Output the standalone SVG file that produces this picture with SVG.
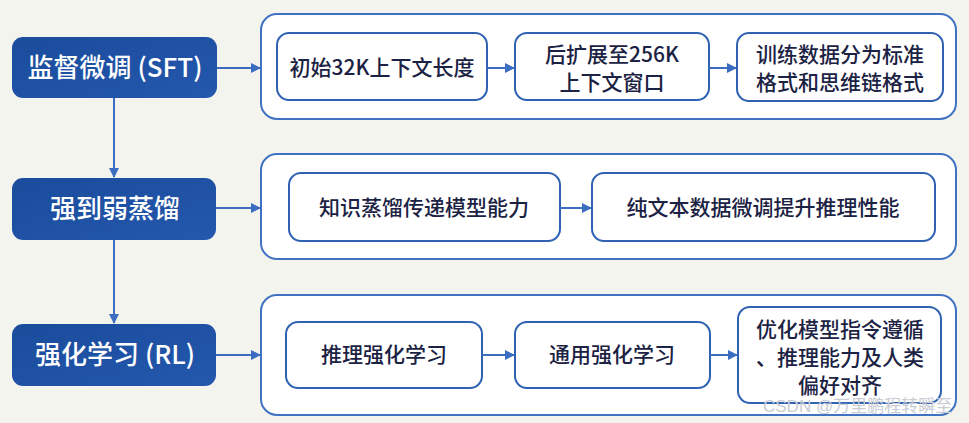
<svg xmlns="http://www.w3.org/2000/svg" width="969" height="423" viewBox="0 0 969 423">
<defs>
<linearGradient id="bg1" x1="0" y1="0" x2="1" y2="1">
<stop offset="0" stop-color="#1a4c9c"/>
<stop offset="1" stop-color="#2458ad"/>
</linearGradient>
<marker id="ah" viewBox="0 0 10 10" refX="9" refY="5" markerWidth="5" markerHeight="5" orient="auto" markerUnits="strokeWidth">
<path d="M0,0 L10,5 L0,10 z" fill="#3a6dbf"/>
</marker>
<style>
.stage rect{fill:url(#bg1);}
.stage text{fill:#ffffff;font-family:"Noto Sans CJK SC","Noto Sans",sans-serif;font-size:26px;font-weight:500;text-anchor:middle;}
.cont{fill:#ffffff;stroke:#3f72c2;stroke-width:2;}
.step rect{fill:#ffffff;stroke:#2f62b3;stroke-width:2;}
.step text{fill:#1b2243;font-family:"Noto Sans CJK SC","Noto Sans",sans-serif;font-size:21px;font-weight:500;text-anchor:middle;}
.conn line{stroke:#3a6dbf;stroke-width:2;fill:none;marker-end:url(#ah);}
.wm{fill:#c9ccd3;font-family:"Liberation Sans","Noto Sans CJK SC",sans-serif;font-size:17px;}
</style>
</defs>
<rect x="0" y="0" width="969" height="423" fill="#f4f4ef"/>

<g id="containers">
<rect class="cont" x="261" y="14" width="695" height="105" rx="16"/>
<rect class="cont" x="261" y="154" width="695" height="105" rx="16"/>
<rect class="cont" x="261" y="295" width="695" height="120" rx="16"/>
</g>

<g id="sft" class="stage">
<rect x="12" y="37" width="205" height="61" rx="11"/>
<text x="115" y="77">监督微调 (SFT)</text>
</g>
<g id="distill" class="stage">
<rect x="12" y="178" width="204" height="62" rx="11"/>
<text x="115" y="218">强到弱蒸馏</text>
</g>
<g id="rl" class="stage">
<rect x="12" y="324" width="204" height="62" rx="11"/>
<text x="115" y="364">强化学习 (RL)</text>
</g>

<g id="s1a" class="step">
<rect x="277" y="33" width="210" height="67" rx="12"/>
<text x="382" y="75">初始32K上下文长度</text>
</g>
<g id="s1b" class="step">
<rect x="515" y="33" width="194" height="67" rx="12"/>
<text x="612" y="62">后扩展至256K</text>
<text x="612" y="90">上下文窗口</text>
</g>
<g id="s1c" class="step">
<rect x="737" y="33" width="206" height="68" rx="12"/>
<text x="840" y="62">训练数据分为标准</text>
<text x="840" y="90">格式和思维链格式</text>
</g>

<g id="s2a" class="step">
<rect x="289" y="173" width="271" height="68" rx="12"/>
<text x="424" y="215">知识蒸馏传递模型能力</text>
</g>
<g id="s2b" class="step">
<rect x="592" y="173" width="343" height="68" rx="12"/>
<text x="763" y="215">纯文本数据微调提升推理性能</text>
</g>

<g id="s3a" class="step">
<rect x="286" y="322" width="196" height="66" rx="12"/>
<text x="384" y="362">推理强化学习</text>
</g>
<g id="s3b" class="step">
<rect x="515" y="322" width="195" height="66" rx="12"/>
<text x="612" y="362">通用强化学习</text>
</g>
<g id="s3c" class="step">
<rect x="738" y="307" width="203" height="96" rx="12"/>
<text x="840" y="337">优化模型指令遵循</text>
<text x="840" y="365">、推理能力及人类</text>
<text x="840" y="393">偏好对齐</text>
</g>

<g id="connectors" class="conn">
<line x1="114" y1="98" x2="114" y2="177"/>
<line x1="114" y1="240" x2="114" y2="323"/>
<line x1="217" y1="68" x2="260" y2="68"/>
<line x1="216" y1="208" x2="260" y2="208"/>
<line x1="216" y1="355" x2="260" y2="355"/>
<line x1="487" y1="68" x2="514" y2="68"/>
<line x1="709" y1="68" x2="736" y2="68"/>
<line x1="560" y1="208" x2="591" y2="208"/>
<line x1="482" y1="355" x2="514" y2="355"/>
<line x1="710" y1="355" x2="737" y2="355"/>
</g>

<text class="wm" x="763" y="412">CSDN @万里鹏程转瞬至</text>
</svg>
